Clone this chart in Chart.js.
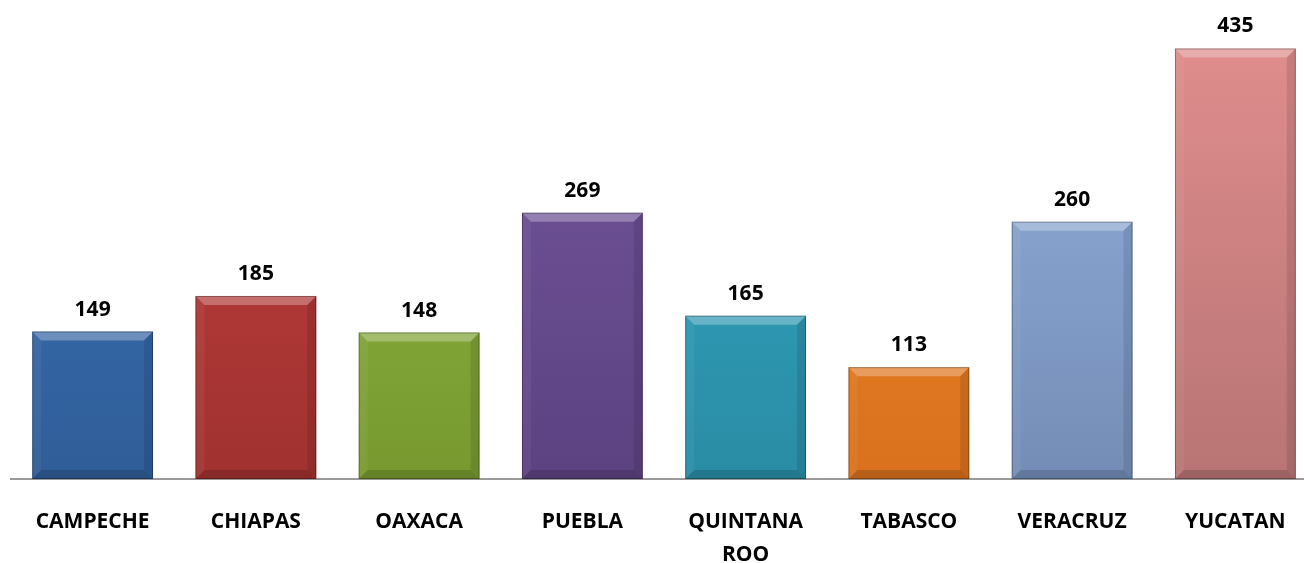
<!DOCTYPE html>
<html>
<head>
<meta charset="utf-8">
<script src="https://cdn.jsdelivr.net/npm/chart.js@4"></script>
<style>
  html, body { margin:0; padding:0; background:#fff; overflow:hidden; }
  #wrap { width:1317px; height:563px; position:relative; }
</style>
</head>
<body>
<div id="wrap"><canvas id="chart"></canvas></div>
<script>
const FONT = "'Open Sans', Lato, sans-serif";
const estados = ['CAMPECHE', 'CHIAPAS', 'OAXACA', 'PUEBLA', ['QUINTANA', 'ROO'], 'TABASCO', 'VERACRUZ', 'YUCATAN'];
const valores = [149, 185, 148, 269, 165, 113, 260, 435];
// color arriba / abajo de cada barra
const colTop = ['#3e78c1', '#c5403d', '#95bc47', '#7658a0', '#36abc8', '#f68c2c', '#95b4df', '#e38f8f'];
const colBot = ['#2f5d97', '#a03230', '#77992f', '#5c4281', '#2a8ca5', '#d8701d', '#748db7', '#b87474'];

// gradiente vertical por barra
function gradiente(ctx) {
  const chart = ctx.chart;
  const area = chart.chartArea;
  if (!area) return colTop[ctx.dataIndex];
  const el = chart.getDatasetMeta(0).data[ctx.dataIndex];
  const top = el && isFinite(el.y) ? el.y : area.top;
  const g = chart.ctx.createLinearGradient(0, top, 0, area.bottom);
  g.addColorStop(0, colTop[ctx.dataIndex]);
  g.addColorStop(1, colBot[ctx.dataIndex]);
  return g;
}

// bisel encima de las barras + etiquetas de valor
Chart.register({
  id: 'bisel',
  afterDatasetsDraw(chart) {
    const { ctx } = chart;
    const meta = chart.getDatasetMeta(0);
    meta.data.forEach((el, i) => {
      const l = el.x - el.width / 2, r = el.x + el.width / 2;
      const t = el.y, bt = el.base, b = 9;
      ctx.save();
      const poly = (pts, fill) => {
        ctx.beginPath();
        ctx.moveTo(pts[0][0], pts[0][1]);
        pts.slice(1).forEach(p => ctx.lineTo(p[0], p[1]));
        ctx.closePath();
        ctx.fillStyle = fill;
        ctx.fill();
      };
      poly([[l, t], [r, t], [r - b, t + b], [l + b, t + b]], 'rgba(255,255,255,0.28)');
      poly([[l, t], [l + b, t + b], [l + b, bt - b], [l, bt]], 'rgba(255,255,255,0.05)');
      poly([[r, t], [r - b, t + b], [r - b, bt - b], [r, bt]], 'rgba(0,0,0,0.10)');
      poly([[l, bt], [l + b, bt - b], [r - b, bt - b], [r, bt]], 'rgba(0,0,0,0.15)');
      ctx.strokeStyle = 'rgba(0,0,0,0.3)';
      ctx.lineWidth = 1;
      ctx.strokeRect(l + 0.5, t + 0.5, el.width - 1, bt - t - 1);
      ctx.font = `700 21px ${FONT}`;
      ctx.fillStyle = '#000';
      ctx.textAlign = 'center';
      ctx.textBaseline = 'alphabetic';
      ctx.fillText(String(valores[i]), el.x, t - 16);
      ctx.restore();
    });
  }
});

new Chart(document.getElementById('chart'), {
  type: 'bar',
  data: {
    labels: estados,
    datasets: [{
      data: valores,
      backgroundColor: gradiente,
      borderWidth: 0,
      barPercentage: 0.74,
      categoryPercentage: 1
    }]
  },
  options: {
    responsive: true,
    maintainAspectRatio: false,
    animation: false,
    layout: { padding: { top: 0, left: 11, right: 0, bottom: 0 } },
    plugins: { legend: { display: false }, tooltip: { enabled: false } },
    scales: {
      x: {
        grid: { display: false, drawTicks: false },
        border: { display: true, color: '#9a9a9a', width: 2 },
        ticks: { font: { family: FONT, size: 21, weight: '700', lineHeight: 1.6 }, color: '#000', padding: 26, maxRotation: 0, autoSkip: false },
        afterFit(s) { s.height = 84; }
      },
      y: {
        display: false,
        min: 0,
        max: 484
      }
    }
  }
});
</script>
</body>
</html>
